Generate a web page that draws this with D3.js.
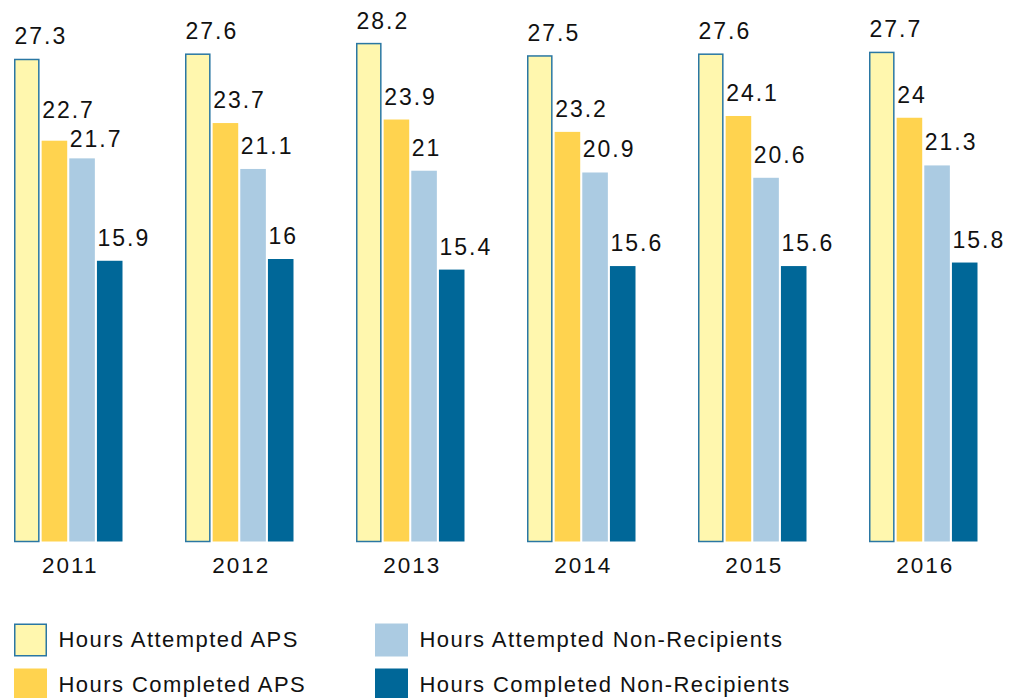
<!DOCTYPE html>
<html>
<head>
<meta charset="utf-8">
<script src="https://cdn.jsdelivr.net/npm/d3@7"></script>
<style>
body { margin: 0; background: #fff; }
text { font-family: "Liberation Sans", Arial, sans-serif; fill: #111; }
</style>
</head>
<body>
<script>
const years = ['2011', '2012', '2013', '2014', '2015', '2016']
const series = ['Hours Attempted APS', 'Hours Completed APS', 'Hours Attempted Non-Recipients', 'Hours Completed Non-Recipients']
const attemptedAPS = [27.3, 27.6, 28.2, 27.5, 27.6, 27.7]
const completedAPS = [22.7, 23.7, 23.9, 23.2, 24.1, 24]
const attemptedNR = [21.7, 21.1, 21, 20.9, 20.6, 21.3]
const completedNR = [15.9, 16, 15.4, 15.6, 15.6, 15.8]
const labels = [
    ['27.3', '27.6', '28.2', '27.5', '27.6', '27.7'],
    ['22.7', '23.7', '23.9', '23.2', '24.1', '24'],
    ['21.7', '21.1', '21', '20.9', '20.6', '21.3'],
    ['15.9', '16', '15.4', '15.6', '15.6', '15.8']
]

const colors = ['#fff7ae', '#ffd34f', '#abcbe2', '#006798']

const WIDTH = 1016
const HEIGHT = 698

const values = [attemptedAPS, completedAPS, attemptedNR, completedNR]
const data = []
years.forEach((y, i) => {
    series.forEach((s, j) => {
        data.push({ year: y, series: s, idx: j, value: values[j][i], label: labels[j][i] })
    })
})

const svg = d3.select('body').append('svg')
    .attr('width', WIDTH)
    .attr('height', HEIGHT)

const x_scale = d3.scaleBand()
    .domain(years)
    .range([14, 977.5])
    .paddingInner(0.3655)
    .paddingOuter(0)

const x_inner = d3.scaleBand()
    .domain(series)
    .range([0, x_scale.bandwidth()])
    .paddingInner(0.075)

const y_scale = d3.scaleLinear()
    .domain([0, 30])
    .range([541.5, 541.5 - 30 * 17.656])

// label baseline: 15px above bar, nudged so neighbours don't collide
const labelGap = 15
const lineH = 29
years.forEach(y => {
    const grp = data.filter(d => d.year == y)
    grp.forEach(d => d.ly = y_scale(d.value) - labelGap)
    for (let j = grp.length - 2; j >= 0; j--) {
        const next = grp[j + 1]
        if (grp[j].ly > next.ly - lineH) {
            const over = grp[j].ly - (next.ly - lineH)
            next.ly += Math.min(over / 2, 4)
            grp[j].ly = next.ly - lineH
        }
    }
})

const groups = svg.append('g')
    .selectAll('g')
    .data(data)
    .join('g')
        .attr('transform', d => `translate(${x_scale(d.year) + x_inner(d.series)},0)`)

groups.append('rect')
    .attr('x', d => d.idx == 0 ? 0.75 : 0)
    .attr('y', d => y_scale(d.value))
    .attr('width', d => d.idx == 0 ? x_inner.bandwidth() - 1.5 : x_inner.bandwidth())
    .attr('height', d => y_scale(0) - y_scale(d.value))
    .attr('fill', d => colors[d.idx])
    .attr('stroke', d => d.idx == 0 ? '#2a77a3' : 'none')
    .attr('stroke-width', 1.5)

groups.append('text')
    .attr('x', 0.5)
    .attr('y', d => d.ly)
    .attr('font-size', 23)
    .attr('letter-spacing', 2)
    .text(d => d.label)

// year labels
svg.append('g')
    .selectAll('text')
    .data(years)
    .join('text')
        .attr('x', d => x_scale(d) + x_scale.bandwidth() / 2 + 2)
        .attr('y', 573)
        .attr('text-anchor', 'middle')
        .attr('font-size', 22.5)
        .attr('letter-spacing', 2)
        .text(d => d)

// legend
const legend = svg.append('g')
    .selectAll('g')
    .data(series)
    .join('g')
        .attr('transform', (d, i) => `translate(${i < 2 ? 14 : 375},${i % 2 == 0 ? 623.5 : 668.5})`)

legend.append('rect')
    .attr('x', (d, i) => i == 0 ? 0.75 : 0)
    .attr('y', (d, i) => i == 0 ? 0.75 : 0)
    .attr('width', (d, i) => i == 0 ? 31.5 : 33)
    .attr('height', (d, i) => i == 0 ? 31.5 : 33)
    .attr('fill', (d, i) => colors[i])
    .attr('stroke', (d, i) => i == 0 ? '#2a77a3' : 'none')
    .attr('stroke-width', 1.5)

legend.append('text')
    .attr('x', 44.5)
    .attr('y', 23.5)
    .attr('font-size', 22)
    .attr('letter-spacing', 1.45)
    .text(d => d)
</script>
</body>
</html>
